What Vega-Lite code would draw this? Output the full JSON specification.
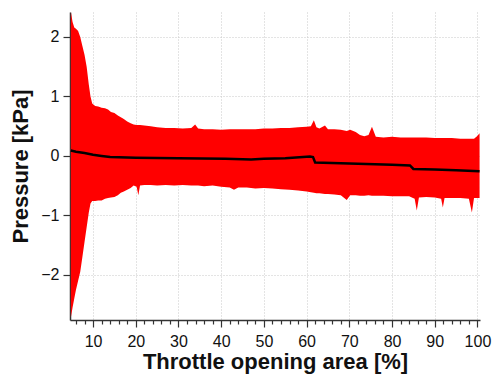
{
  "$schema": "https://vega.github.io/schema/vega-lite/v6.json",
  "width": 410,
  "height": 308,
  "autosize": {"type": "none"},
  "padding": {"left": 70, "top": 12, "right": 16, "bottom": 58},
  "background": "white",
  "datasets": {
    "band": [
      {"x": 4.8, "lo": -2.72, "hi": 2.42},
      {"x": 5.2, "lo": -2.55, "hi": 2.25},
      {"x": 5.6, "lo": -2.4, "hi": 2.16},
      {"x": 6.0, "lo": -2.25, "hi": 2.14},
      {"x": 6.5, "lo": -2.1, "hi": 2.1},
      {"x": 7.0, "lo": -1.95, "hi": 2.0},
      {"x": 7.5, "lo": -1.7, "hi": 1.85},
      {"x": 8.0, "lo": -1.45, "hi": 1.7},
      {"x": 8.5, "lo": -1.2, "hi": 1.5},
      {"x": 9.0, "lo": -0.95, "hi": 1.2},
      {"x": 9.4, "lo": -0.8, "hi": 1.0},
      {"x": 9.8, "lo": -0.76, "hi": 0.88},
      {"x": 10.5, "lo": -0.76, "hi": 0.84},
      {"x": 11.2, "lo": -0.75, "hi": 0.83},
      {"x": 12.0, "lo": -0.75, "hi": 0.81},
      {"x": 12.8, "lo": -0.72, "hi": 0.8},
      {"x": 13.5, "lo": -0.71, "hi": 0.78},
      {"x": 14.2, "lo": -0.7, "hi": 0.74},
      {"x": 15.0, "lo": -0.69, "hi": 0.72},
      {"x": 15.8, "lo": -0.66, "hi": 0.68},
      {"x": 16.5, "lo": -0.62, "hi": 0.65},
      {"x": 17.2, "lo": -0.6, "hi": 0.62},
      {"x": 18.0, "lo": -0.57, "hi": 0.58},
      {"x": 18.8, "lo": -0.54, "hi": 0.55},
      {"x": 19.5, "lo": -0.5, "hi": 0.53},
      {"x": 20.2, "lo": -0.52, "hi": 0.52},
      {"x": 20.6, "lo": -0.66, "hi": 0.52},
      {"x": 21.0, "lo": -0.5, "hi": 0.52},
      {"x": 22.0, "lo": -0.49, "hi": 0.51},
      {"x": 23.5, "lo": -0.49, "hi": 0.5},
      {"x": 25.0, "lo": -0.5, "hi": 0.48},
      {"x": 27.0, "lo": -0.49, "hi": 0.47},
      {"x": 29.0, "lo": -0.5, "hi": 0.47},
      {"x": 31.0, "lo": -0.49, "hi": 0.46},
      {"x": 33.0, "lo": -0.5, "hi": 0.47},
      {"x": 33.9, "lo": -0.5, "hi": 0.53},
      {"x": 34.6, "lo": -0.5, "hi": 0.46},
      {"x": 36.0, "lo": -0.51, "hi": 0.45},
      {"x": 38.0, "lo": -0.5, "hi": 0.45},
      {"x": 40.0, "lo": -0.52, "hi": 0.44},
      {"x": 42.0, "lo": -0.53, "hi": 0.45},
      {"x": 43.0, "lo": -0.57, "hi": 0.45},
      {"x": 44.0, "lo": -0.53, "hi": 0.45},
      {"x": 46.0, "lo": -0.53, "hi": 0.45},
      {"x": 48.0, "lo": -0.55, "hi": 0.45},
      {"x": 50.0, "lo": -0.54, "hi": 0.46},
      {"x": 52.0, "lo": -0.55, "hi": 0.46},
      {"x": 54.0, "lo": -0.56, "hi": 0.47},
      {"x": 56.0, "lo": -0.57, "hi": 0.47},
      {"x": 58.0, "lo": -0.58, "hi": 0.48},
      {"x": 60.0, "lo": -0.6, "hi": 0.49},
      {"x": 61.0, "lo": -0.61, "hi": 0.5},
      {"x": 61.7, "lo": -0.62, "hi": 0.6},
      {"x": 62.3, "lo": -0.63, "hi": 0.48},
      {"x": 63.0, "lo": -0.63, "hi": 0.46},
      {"x": 64.3, "lo": -0.64, "hi": 0.51},
      {"x": 65.0, "lo": -0.64, "hi": 0.45},
      {"x": 66.5, "lo": -0.65, "hi": 0.45},
      {"x": 68.0, "lo": -0.66, "hi": 0.44},
      {"x": 69.4, "lo": -0.74, "hi": 0.42},
      {"x": 70.2, "lo": -0.66, "hi": 0.44},
      {"x": 71.5, "lo": -0.66, "hi": 0.4},
      {"x": 72.5, "lo": -0.67, "hi": 0.35},
      {"x": 73.5, "lo": -0.67, "hi": 0.33},
      {"x": 74.5, "lo": -0.66, "hi": 0.35},
      {"x": 75.3, "lo": -0.67, "hi": 0.49},
      {"x": 76.2, "lo": -0.67, "hi": 0.32},
      {"x": 78.0, "lo": -0.67, "hi": 0.31},
      {"x": 80.0, "lo": -0.68, "hi": 0.32},
      {"x": 82.0, "lo": -0.68, "hi": 0.31},
      {"x": 84.0, "lo": -0.68, "hi": 0.31},
      {"x": 85.3, "lo": -0.72, "hi": 0.31},
      {"x": 85.8, "lo": -0.92, "hi": 0.31},
      {"x": 86.3, "lo": -0.7, "hi": 0.31},
      {"x": 88.0, "lo": -0.69, "hi": 0.31},
      {"x": 90.0, "lo": -0.7, "hi": 0.3},
      {"x": 91.5, "lo": -0.72, "hi": 0.3},
      {"x": 91.9, "lo": -0.87, "hi": 0.3},
      {"x": 92.3, "lo": -0.71, "hi": 0.3},
      {"x": 94.0, "lo": -0.71, "hi": 0.3},
      {"x": 96.0, "lo": -0.71, "hi": 0.29},
      {"x": 98.0, "lo": -0.72, "hi": 0.29},
      {"x": 98.7, "lo": -0.95, "hi": 0.29},
      {"x": 99.2, "lo": -0.71, "hi": 0.29},
      {"x": 99.9, "lo": -0.71, "hi": 0.33},
      {"x": 100.5, "lo": -0.71, "hi": 0.38}
    ],
    "mean": [
      {"x": 4.8, "mean": 0.09},
      {"x": 6, "mean": 0.07},
      {"x": 8, "mean": 0.05},
      {"x": 10, "mean": 0.02},
      {"x": 12, "mean": 0.0},
      {"x": 14, "mean": -0.02},
      {"x": 20, "mean": -0.03},
      {"x": 30, "mean": -0.04},
      {"x": 41, "mean": -0.05},
      {"x": 47, "mean": -0.06},
      {"x": 50, "mean": -0.05},
      {"x": 55, "mean": -0.04},
      {"x": 60.8, "mean": -0.01},
      {"x": 61.5, "mean": -0.02},
      {"x": 62, "mean": -0.11},
      {"x": 70, "mean": -0.13},
      {"x": 80, "mean": -0.15},
      {"x": 84.2, "mean": -0.16},
      {"x": 85, "mean": -0.22},
      {"x": 90, "mean": -0.23},
      {"x": 95, "mean": -0.24},
      {"x": 100.5, "mean": -0.26}
    ]
  },
  "encoding": {
    "x": {
      "field": "x", "type": "quantitative",
      "title": "Throttle opening area [%]",
      "scale": {"domain": [4.6, 100.6], "nice": false, "zero": false},
      "axis": {
        "values": [6, 8, 10, 12, 14, 16, 18, 20, 22, 24, 26, 28, 30, 32, 34, 36, 38, 40, 42, 44, 46, 48, 50, 52, 54, 56, 58, 60, 62, 64, 66, 68, 70, 72, 74, 76, 78, 80, 82, 84, 86, 88, 90, 92, 94, 96, 98, 100],
        "labelExpr": "datum.value % 10 === 0 ? datum.label : ''",
        "labelOverlap": false,
        "tickSize": {"condition": {"test": "datum.value % 10 === 0", "value": 7}, "value": 4},
        "gridOpacity": {"condition": {"test": "datum.value % 10 === 0", "value": 1}, "value": 0},
        "labelPadding": 6,
        "titlePadding": 2,
        "grid": true
      }
    }
  },
  "layer": [
    {
      "data": {"name": "band"},
      "mark": {"type": "area", "color": "#ff0000", "clip": true},
      "encoding": {
        "y": {
          "field": "lo", "type": "quantitative",
          "title": "Pressure [kPa]",
          "scale": {"domain": [-2.76, 2.42], "nice": false, "zero": false},
          "axis": {
            "values": [-2, -1, 0, 1, 2],
            "tickSize": 7,
            "labelPadding": 4,
            "titlePadding": 8,
            "grid": true
          }
        },
        "y2": {"field": "hi"}
      }
    },
    {
      "data": {"name": "mean"},
      "mark": {"type": "line", "color": "black", "strokeWidth": 2.5, "clip": true},
      "encoding": {
        "y": {
          "field": "mean", "type": "quantitative",
          "title": "Pressure [kPa]",
          "axis": {
            "values": [-2, -1, 0, 1, 2],
            "tickSize": 7,
            "labelPadding": 4,
            "titlePadding": 8,
            "grid": true
          }
        }
      }
    }
  ],
  "config": {
    "view": {"stroke": null},
    "font": "Liberation Sans",
    "axis": {
      "domainColor": "#333333",
      "domainWidth": 1.5,
      "tickColor": "#333333",
      "tickWidth": 1.2,
      "labelFont": "Liberation Sans",
      "labelFontSize": 16,
      "labelColor": "#111111",
      "titleFont": "Liberation Sans",
      "titleFontSize": 22,
      "titleFontWeight": "bold",
      "titleColor": "#111111",
      "gridColor": "#c8c8c8",
      "gridDash": [1, 2],
      "gridWidth": 1
    }
  }
}
